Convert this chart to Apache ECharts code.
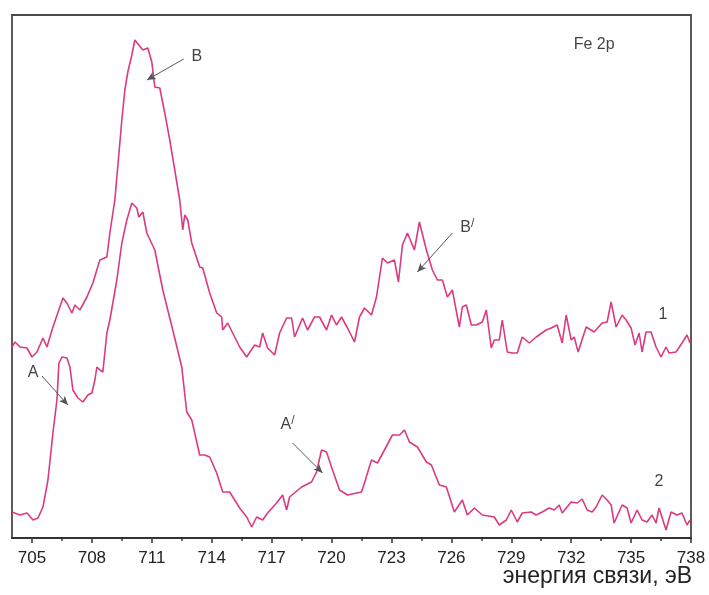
<!DOCTYPE html>
<html><head><meta charset="utf-8">
<script src="https://cdn.jsdelivr.net/npm/echarts@6/dist/echarts.min.js"></script>
<style>html,body{margin:0;padding:0;background:#fff}#c{width:709px;height:595px}</style>
</head><body><div id="c"></div>
<script>
// Binding energy (eV) and intensity (arb. units)
const energy1 = [704.0,704.15,704.4,704.75,705.0,705.25,705.55,705.75,706.05,706.55,706.75,707.0,707.15,707.4,707.75,708.05,708.4,708.75,708.9,709.15,709.5,709.65,709.8,710.0,710.15,710.55,710.8,711.0,711.15,711.25,711.4,711.65,711.9,712.15,712.4,712.55,712.65,712.8,713.0,713.4,713.55,713.9,714.25,714.5,714.55,714.8,715.05,715.4,715.75,716.15,716.4,716.55,716.8,717.15,717.4,717.75,718.0,718.15,718.55,718.8,719.15,719.4,719.75,720.0,720.25,720.5,720.8,721.15,721.4,721.65,722.0,722.25,722.55,722.8,723.15,723.35,723.55,723.8,724.15,724.4,724.75,725.05,725.3,725.55,725.8,726.05,726.4,726.55,726.75,727.0,727.25,727.55,727.75,728.0,728.15,728.4,728.55,728.8,729.05,729.3,729.55,729.9,730.25,730.75,731.0,731.3,731.55,731.75,732.0,732.15,732.35,732.75,733.15,733.55,733.8,734.0,734.25,734.55,734.75,735.0,735.2,735.4,735.55,735.75,736.0,736.25,736.5,736.75,736.9,737.25,737.55,737.8,737.95];
const intensity1 = [191,196,191,190,181,186,200,191,211,240,235,225,233,228,241,255,278,281,305,338,418,448,466,483,498,488,490,476,451,450,450,425,398,368,338,308,323,318,295,271,270,245,225,221,208,215,205,191,181,193,191,205,190,183,205,220,220,201,220,208,221,221,208,223,213,221,210,196,221,230,223,241,280,275,278,256,293,305,288,316,288,268,258,258,241,248,211,231,233,213,213,216,228,190,198,198,218,186,185,185,201,195,201,208,210,213,195,223,198,201,186,211,206,215,216,236,211,223,218,210,193,205,186,206,206,191,181,191,185,186,195,203,195];
const energy2 = [704.0,704.4,704.75,705.05,705.3,705.55,705.8,706.05,706.25,706.35,706.5,706.75,706.9,707.05,707.3,707.55,707.8,708.0,708.15,708.25,708.4,708.55,708.75,708.9,709.25,709.5,709.75,710.0,710.25,710.35,710.55,710.75,711.15,711.55,712.05,712.5,712.75,713.0,713.4,713.65,713.9,714.25,714.55,714.9,715.4,715.75,716.0,716.25,716.55,716.8,717.25,717.55,717.75,717.9,718.5,719.0,719.25,719.5,719.75,720.05,720.4,720.8,721.5,721.65,722.0,722.3,722.65,723.05,723.4,723.65,723.9,724.3,724.75,725.0,725.4,725.75,726.15,726.55,726.8,727.15,727.55,728.15,728.4,728.75,729.0,729.3,729.55,730.0,730.25,730.55,730.9,731.15,731.4,731.55,732.0,732.3,732.55,732.8,733.05,733.25,733.55,733.8,734.0,734.15,734.55,734.8,735.0,735.3,735.55,735.8,736.05,736.25,736.4,736.75,737.0,737.3,737.55,737.8,737.95];
const intensity2 = [26,23,25,18,20,31,58,105,138,175,181,180,171,148,140,136,143,145,158,171,168,166,205,218,258,295,318,335,330,321,326,305,288,248,208,171,126,118,83,83,81,65,46,46,30,21,11,21,18,25,35,43,28,41,51,56,66,88,86,68,48,43,46,55,78,75,88,103,103,108,96,91,76,73,53,51,26,38,23,30,23,21,13,18,28,16,25,26,23,26,30,28,33,25,36,35,39,28,26,31,43,38,33,15,33,30,15,28,18,16,23,15,30,8,26,23,25,13,18];
const majorTicks = [705,708,711,714,717,720,723,726,729,732,735,738];
const minorTicks = [706.5,709.5,712.5,715.5,718.5,721.5,724.5,727.5,730.5,733.5,736.5];
const xTitle = 'энергия связи, эВ';
// annotation texts and anchor points (data units)
const labelTexts = ['B','B{p|/}','A','A{p|/}','1','2','Fe 2p'];
const labelX = [713.25,726.8,705.05,717.8,736.6,736.4,733.15];
const labelY = [481,310,165,113,223,56,493];
const arrowFromX = [712.6,726.05,705.5,718.05];
const arrowFromY = [479,305,162,95];
const arrowToX = [710.75,724.3,706.8,719.55];
const arrowToY = [458,266,133,65];

const lineColor = '#db3a80';
const font = '"Liberation Sans", Arial, sans-serif';
const chart = echarts.init(document.getElementById('c'), null, {renderer:'canvas'});
const pairs = (xs, ys) => xs.map((x,i)=>[x, ys[i]]);
chart.setOption({
  animation:false,
  title:{text:xTitle, right:17, top:565, padding:0,
    textStyle:{fontSize:23, fontWeight:'normal', color:'#222', fontFamily:font}},
  grid:{left:12, right:18, top:15, bottom:57, containLabel:false, outerBoundsMode:'none',
        show:true, borderColor:'#4a4a4a', borderWidth:1.8, backgroundColor:'transparent'},
  xAxis:[{
    type:'value', min:704, max:738, position:'bottom',
    axisLine:{show:true, lineStyle:{color:'#333', width:1.8}},
    axisTick:{show:true, customValues:majorTicks, length:5, inside:false, lineStyle:{color:'#333', width:1.5}},
    axisLabel:{show:true, customValues:majorTicks, margin:12, color:'#222', fontSize:17, fontFamily:font},
    splitLine:{show:false}
  },{
    type:'value', min:704, max:738, position:'bottom',
    axisLine:{show:false},
    axisTick:{show:true, customValues:minorTicks, length:3, lineStyle:{color:'#333', width:1.5}},
    axisLabel:{show:false}, splitLine:{show:false}
  }],
  yAxis:{type:'value', min:0, max:523, show:false},
  series:[
    {type:'line', name:'1', data:pairs(energy1,intensity1), showSymbol:false, lineStyle:{color:lineColor, width:1.6}, z:3},
    {type:'line', name:'2', data:pairs(energy2,intensity2), showSymbol:false, lineStyle:{color:lineColor, width:1.6}, z:3},
    {type:'scatter', name:'labels', symbolSize:0, silent:true, z:5,
     data:labelTexts.map((t,i)=>({value:[labelX[i], labelY[i]], label:{formatter:t}})),
     label:{show:true, position:'inside', color:'#111', fontSize:16, fontFamily:font,
       rich:{p:{fontSize:12, color:'#111', fontFamily:font, padding:[0,0,9,0]}}},
     markLine:{silent:true, symbol:['none','arrow'], symbolSize:[6,9], precision:3,
       lineStyle:{color:'#555', width:1, type:'solid'}, label:{show:false},
       data:arrowFromX.map((x,i)=>[{coord:[x, arrowFromY[i]]},{coord:[arrowToX[i], arrowToY[i]]}])}
    }
  ]
});
</script></body></html>
